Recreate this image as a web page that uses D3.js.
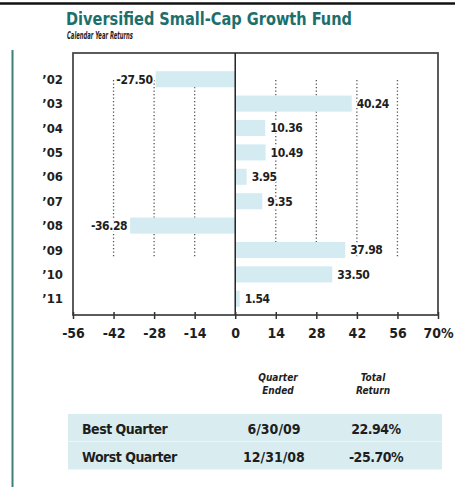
<!DOCTYPE html>
<html lang="en">
<head>
  <meta charset="UTF-8" />
  <title>Diversified Small-Cap Growth Fund</title>
  <script src="https://d3js.org/d3.v7.min.js"></script>
  <style>
    body {
      margin: 0;
      background: #fff;
    }
    svg {
      display: block;
      font-family: "DejaVu Sans Condensed", "DejaVu Sans", sans-serif;
    }
  </style>
</head>
<body>
  <svg width="455" height="487"></svg>

  <script>
    // chart values
    const years = ["’02", "’03", "’04", "’05", "’06", "’07", "’08", "’09", "’10", "’11"];
    const returns = [-27.50, 40.24, 10.36, 10.49, 3.95, 9.35, -36.28, 37.98, 33.50, 1.54];
    const returnLabels = ["-27.50", "40.24", "10.36", "10.49", "3.95", "9.35", "-36.28", "37.98", "33.50", "1.54"];
    const tickValues = [-56, -42, -28, -14, 0, 14, 28, 42, 56, 70];
    const gridValues = [-42, -28, -14, 14, 28, 42, 56];

    // quarter table
    const quarterRows = ["Best Quarter", "Worst Quarter"];
    const quarterEnded = ["6/30/09", "12/31/08"];
    const quarterReturn = ["22.94%", "-25.70%"];

    const svg = d3.select("svg");
    const ink = "#1e1e1e";
    const barFill = "#d4ecf1";

    const box = { left: 73, right: 438, top: 53, bottom: 315 };

    const x = d3.scaleLinear().domain([-56, 70]).range([box.left, box.right]);
    const y = d3.scaleBand().domain(years).range([67, 311])
      .paddingInner(0.34).paddingOuter(0.17);

    // top rule and left teal rule
    svg.append("line")
      .attr("x1", 0).attr("x2", 455).attr("y1", 3.5).attr("y2", 3.5)
      .attr("stroke", "#111").attr("stroke-width", 2.5);
    svg.append("line")
      .attr("x1", 12.5).attr("x2", 12.5).attr("y1", 50).attr("y2", 487)
      .attr("stroke", "#3f7f7c").attr("stroke-width", 2);

    // titles
    svg.append("text")
      .attr("x", 66).attr("y", 25)
      .attr("font-size", 17).attr("font-weight", "bold")
      .attr("fill", "#1d6f6c")
      .attr("textLength", 286).attr("lengthAdjust", "spacingAndGlyphs")
      .text("Diversified Small-Cap Growth Fund");
    svg.append("text")
      .attr("x", 67).attr("y", 39)
      .attr("font-size", 10).attr("font-weight", "bold").attr("font-style", "italic")
      .attr("fill", ink)
      .attr("textLength", 66).attr("lengthAdjust", "spacingAndGlyphs")
      .text("Calendar Year Returns");

    // dotted gridlines
    svg.append("g")
      .selectAll("line")
      .data(gridValues)
      .join("line")
      .attr("x1", d => x(d)).attr("x2", d => x(d))
      .attr("y1", 80).attr("y2", 258)
      .attr("stroke", "#555").attr("stroke-width", 1.3)
      .attr("stroke-dasharray", "1.3,2.2");

    // bars
    svg.append("g")
      .selectAll("rect")
      .data(returns)
      .join("rect")
      .attr("x", d => x(Math.min(0, d)))
      .attr("width", d => Math.abs(x(d) - x(0)))
      .attr("y", (d, i) => y(years[i]))
      .attr("height", y.bandwidth())
      .attr("fill", barFill);

    // value labels
    svg.append("g")
      .selectAll("text")
      .data(returns)
      .join("text")
      .attr("x", d => d < 0 ? x(d) - 3 : x(d) + 5)
      .attr("y", (d, i) => y(years[i]) + y.bandwidth() / 2)
      .attr("dy", "0.36em")
      .attr("text-anchor", d => d < 0 ? "end" : "start")
      .attr("font-size", 12).attr("font-weight", "bold")
      .attr("letter-spacing", -0.4)
      .attr("fill", ink)
      .attr("stroke", "#fff").attr("stroke-width", 3)
      .attr("paint-order", "stroke")
      .text((d, i) => returnLabels[i]);

    // year labels
    svg.append("g")
      .selectAll("text")
      .data(years)
      .join("text")
      .attr("x", 63)
      .attr("y", d => y(d) + y.bandwidth() / 2)
      .attr("dy", "0.36em")
      .attr("text-anchor", "end")
      .attr("font-size", 13).attr("font-weight", "bold")
      .attr("fill", ink)
      .text(d => d);

    // plot frame and zero line
    svg.append("rect")
      .attr("x", box.left).attr("y", box.top)
      .attr("width", box.right - box.left).attr("height", box.bottom - box.top)
      .attr("fill", "none").attr("stroke", "#4a4a4a").attr("stroke-width", 1.8);
    svg.append("line")
      .attr("x1", x(0)).attr("x2", x(0))
      .attr("y1", box.top).attr("y2", box.bottom)
      .attr("stroke", "#222").attr("stroke-width", 1.5);

    // x axis
    const axis = d3.axisBottom(x)
      .tickValues(tickValues)
      .tickFormat(d => d === 70 ? "70%" : d)
      .tickSize(4)
      .tickPadding(9);
    const gx = svg.append("g")
      .attr("transform", `translate(0,${box.bottom})`)
      .call(axis);
    gx.select(".domain").remove();
    gx.selectAll(".tick line").attr("stroke", "#333").attr("stroke-width", 1.5)
      .attr("y1", -3);
    gx.selectAll(".tick text")
      .attr("font-family", "DejaVu Sans Condensed, DejaVu Sans, sans-serif")
      .attr("font-size", 14).attr("font-weight", "bold")
      .attr("fill", ink);

    // best / worst quarter table
    const colEnded = 274;
    const colReturn = 376;

    const head = svg.append("g")
      .attr("font-size", 10).attr("font-weight", "bold").attr("font-style", "italic")
      .attr("fill", ink).attr("text-anchor", "middle");
    head.append("text").attr("x", 278).attr("y", 381).text("Quarter");
    head.append("text").attr("x", 278).attr("y", 394).text("Ended");
    head.append("text").attr("x", 373).attr("y", 381).text("Total");
    head.append("text").attr("x", 373).attr("y", 394).text("Return");

    const rowTop = [414, 442];
    const rows = svg.append("g")
      .selectAll("g")
      .data(quarterRows)
      .join("g")
      .attr("transform", (d, i) => `translate(0,${rowTop[i]})`);
    rows.append("rect")
      .attr("x", 68).attr("width", 374)
      .attr("y", 0).attr("height", 27.5)
      .attr("fill", "#d9edf1");
    rows.append("text")
      .attr("x", 82).attr("y", 20)
      .attr("font-size", 14).attr("font-weight", "bold").attr("fill", ink)
      .attr("letter-spacing", -0.5)
      .text(d => d);
    rows.append("text")
      .attr("x", colEnded).attr("y", 20)
      .attr("text-anchor", "middle")
      .attr("font-size", 14).attr("font-weight", "bold").attr("fill", ink)
      .text((d, i) => quarterEnded[i]);
    rows.append("text")
      .attr("x", colReturn).attr("y", 20)
      .attr("text-anchor", "middle")
      .attr("font-size", 14).attr("font-weight", "bold").attr("fill", ink)
      .attr("letter-spacing", -0.5)
      .text((d, i) => quarterReturn[i]);
  </script>
</body>
</html>
